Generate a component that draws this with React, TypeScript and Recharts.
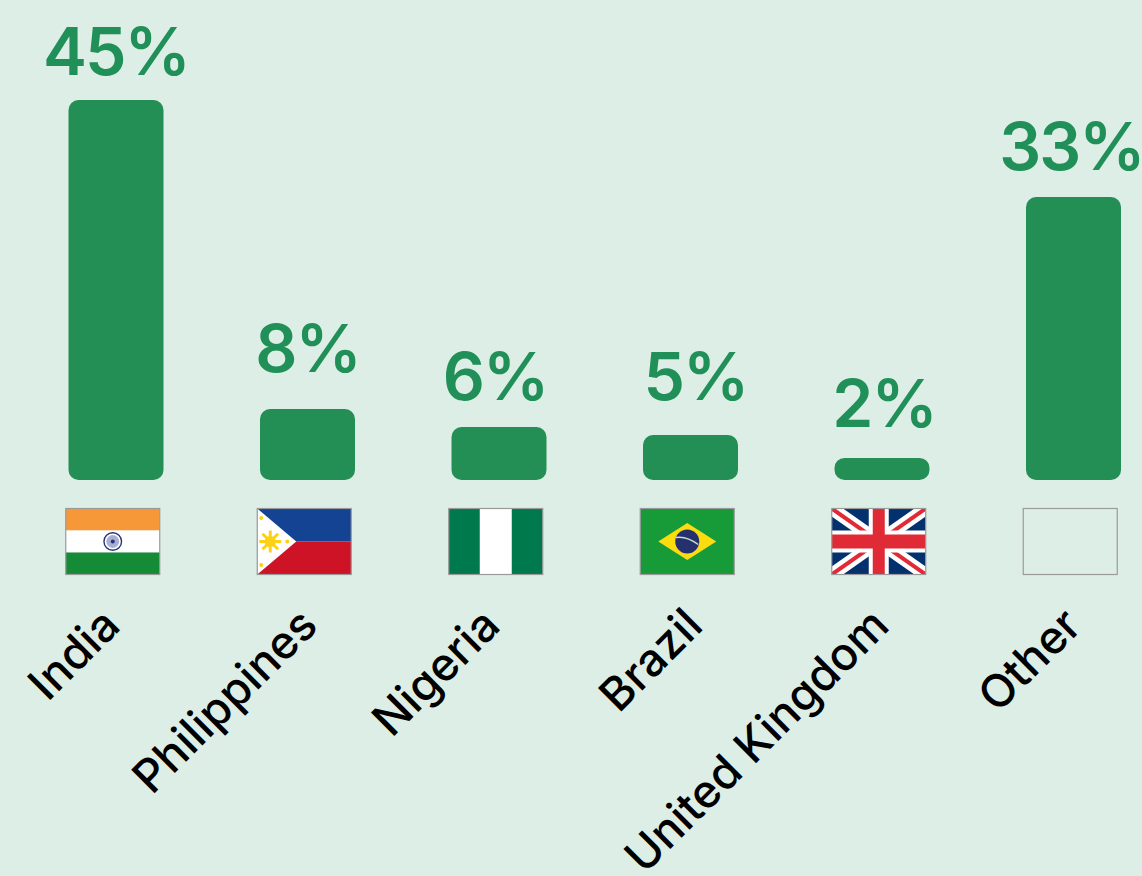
import { Bar, BarChart, LabelList, XAxis, YAxis } from "recharts";

const countries = ["India", "Philippines", "Nigeria", "Brazil", "United Kingdom", "Other"];
const shares = [44.7, 8.35, 6.24, 5.3, 2.6, 33.3];
const shareLabels = ["45%", "8%", "6%", "5%", "2%", "33%"];

const rows = countries.map((name, i) => ({ name, share: shares[i], label: shareLabels[i] }));

const GREEN = "#248F55";
const LABEL_GREEN = "#209058";
const FONT = "Inter, 'Open Sans', sans-serif";
const FLAG_W = 94;
const FLAG_H = 66;

// hand placement of the labels, the source chart has them slightly off centre
const valueNudge: Record<string, [number, number]> = {
  "45%": [0, -25],
  "8%": [0, -37],
  "6%": [-4, -27],
  "5%": [5, -35],
  "2%": [2, -31],
  "33%": [-2, -27],
};
const nameNudge: Record<string, number> = {
  India: 6,
  Philippines: 12,
  Nigeria: 3,
  Brazil: 14,
  "United Kingdom": 9,
  Other: 10,
};

function sunRays(cx: number, cy: number) {
  const rays = [];
  for (let i = 0; i < 8; i++) {
    const a = (i * Math.PI) / 4;
    rays.push(
      <line key={i} x1={cx} y1={cy} x2={cx + 11 * Math.cos(a)} y2={cy + 11 * Math.sin(a)} stroke="#FCD116" strokeWidth={3} />
    );
  }
  return rays;
}

function Flag({ name }: { name: string }) {
  const w = FLAG_W;
  const h = FLAG_H;
  if (name === "India") {
    return (
      <g>
        <rect width={w} height={22} fill="#F69738" />
        <rect y={22} width={w} height={22} fill="#fff" />
        <rect y={44} width={w} height={22} fill="#158A37" />
        <circle cx={47} cy={33} r={8.8} fill="#fff" stroke="#26337F" strokeWidth={1.4} />
        <circle cx={47} cy={33} r={6.4} fill="#A9AFD0" />
        <circle cx={47} cy={33} r={2} fill="#26337F" />
      </g>
    );
  }
  if (name === "Philippines") {
    return (
      <g>
        <rect width={w} height={33} fill="#144394" />
        <rect y={33} width={w} height={33} fill="#CE1327" />
        <polygon points="0,0 39,33 0,66" fill="#fff" />
        {sunRays(13, 33)}
        <circle cx={13} cy={33} r={5.6} fill="#FCD116" />
        <circle cx={4} cy={9.5} r={2} fill="#FCD116" />
        <circle cx={4} cy={56.5} r={2} fill="#FCD116" />
        <circle cx={30} cy={33} r={2} fill="#FCD116" />
      </g>
    );
  }
  if (name === "Nigeria") {
    return (
      <g>
        <rect width={w} height={h} fill="#00794D" />
        <rect x={31} width={32} height={h} fill="#fff" />
      </g>
    );
  }
  if (name === "Brazil") {
    return (
      <g>
        <rect width={w} height={h} fill="#179A38" />
        <polygon points="47,14.5 76,33 47,51.5 18,33" fill="#FBDC0F" />
        <circle cx={47} cy={33} r={12} fill="#27306F" />
        <path d="M35.5,29 Q46,27 58,36" fill="none" stroke="#BFE2C4" strokeWidth={1.5} />
      </g>
    );
  }
  if (name === "United Kingdom") {
    return (
      <g>
        <clipPath id="uk-clip">
          <rect width={w} height={h} />
        </clipPath>
        <g clipPath="url(#uk-clip)">
          <rect width={w} height={h} fill="#03316E" />
          <line x1={0} y1={0} x2={w} y2={h} stroke="#fff" strokeWidth={13} />
          <line x1={w} y1={0} x2={0} y2={h} stroke="#fff" strokeWidth={13} />
          <line x1={0} y1={0} x2={w} y2={h} stroke="#E02B37" strokeWidth={4} />
          <line x1={w} y1={0} x2={0} y2={h} stroke="#E02B37" strokeWidth={4} />
          <rect x={37} width={20} height={h} fill="#fff" />
          <rect y={22} width={w} height={22} fill="#fff" />
          <rect x={41} width={12} height={h} fill="#E02B37" />
          <rect y={26} width={w} height={14} fill="#E02B37" />
        </g>
      </g>
    );
  }
  return null;
}

function CountryTick({ x, y, payload }: any) {
  const tx = x + nameNudge[payload.value];
  const ty = y + 148;
  return (
    <g>
      <g transform={`translate(${x - 50.5}, ${y + 28.5})`}>
        <Flag name={payload.value} />
        <rect width={FLAG_W} height={FLAG_H} fill="none" stroke="#9A9A9A" strokeWidth={1.2} />
      </g>
      <text
        x={tx}
        y={ty}
        transform={`rotate(-45, ${tx}, ${ty})`}
        textAnchor="end"
        fontFamily={FONT}
        fontSize={45.5}
        fontWeight={500}
        fill="#000"
      >
        {payload.value}
      </text>
    </g>
  );
}

function ValueLabel({ x, y, width, value }: any) {
  const [dx, dy] = valueNudge[value];
  return (
    <text
      x={x + width / 2 + dx}
      y={y + dy}
      textAnchor="middle"
      fontFamily={FONT}
      fontSize={66}
      fontWeight={600}
      letterSpacing={-2}
      fill={LABEL_GREEN}
    >
      {value}
    </text>
  );
}

export default function App() {
  return (
    <div style={{ position: "absolute", left: 0, top: 0, width: 1142, height: 876, overflow: "hidden", background: "#DDEEE6" }}>
      <BarChart
        width={1169.5}
        height={876}
        data={rows}
        margin={{ top: 0, right: 0, bottom: 0, left: 20.5 }}
      >
        <YAxis hide domain={[0, 56.47]} allowDataOverflow />
        <XAxis
          dataKey="name"
          height={396}
          interval={0}
          axisLine={false}
          tickLine={false}
          tickSize={0}
          tickMargin={0}
          tick={<CountryTick />}
        />
        <Bar dataKey="share" fill={GREEN} radius={10} barSize={95} isAnimationActive={false}>
          <LabelList dataKey="label" content={<ValueLabel />} />
        </Bar>
      </BarChart>
    </div>
  );
}
